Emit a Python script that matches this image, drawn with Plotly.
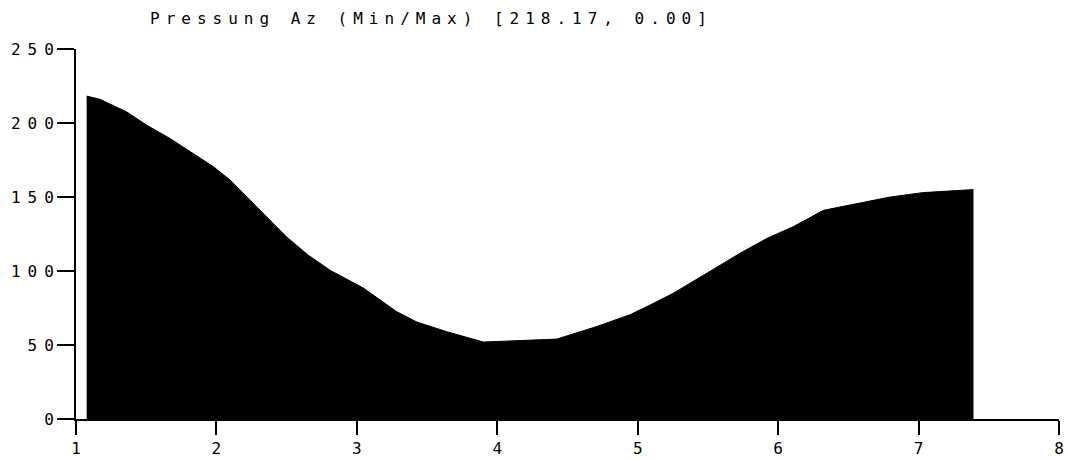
import plotly.graph_objects as go

# Data
x_vals = [1.076, 1.171, 1.361, 1.504, 1.670, 1.835, 1.978, 2.097, 2.216, 2.358,
          2.50, 2.65, 2.809, 3.046, 3.284, 3.427, 3.640, 3.901, 4.162, 4.424,
          4.709, 4.946, 5.088, 5.254, 5.492, 5.729, 5.919, 6.109, 6.323, 6.560,
          6.798, 7.035, 7.391]
pressure = [218.17, 216, 207.5, 198.5, 189.5, 179.5, 170.5, 161.5, 150, 136.5,
            123, 111, 100.5, 88.5, 72.5, 65.5, 59, 52, 53, 54,
            62.5, 70.5, 77, 85, 98.5, 112, 122, 130, 141, 145.5,
            150, 153, 155]

x_ticks = [1, 2, 3, 4, 5, 6, 7, 8]
x_tick_labels = ["1", "2", "3", "4", "5", "6", "7", "8"]
y_ticks = [0, 50, 100, 150, 200, 250]
y_tick_labels = ["0", "50", "100", "150", "200", "250"]
title_text = "Pressung Az (Min/Max) [218.17, 0.00]"

FONT = "DejaVu Sans Mono"


def spaced(s, px):
    # letter spacing between characters only (no trailing gap)
    if len(s) <= 1:
        return s
    return "<span style='letter-spacing:%dpx'>%s</span>%s" % (px, s[:-1], s[-1])


fig = go.Figure()
fig.add_trace(go.Scatter(
    x=x_vals, y=pressure, mode="lines", fill="tozeroy",
    fillcolor="black", line=dict(color="black", width=1),
    hoverinfo="skip", showlegend=False,
))

fig.update_layout(
    width=1068, height=460,
    margin=dict(l=76, r=9, t=49, b=41),
    paper_bgcolor="white", plot_bgcolor="white",
    font=dict(family=FONT, color="black", size=15),
    xaxis=dict(
        range=[1, 8], showgrid=False, zeroline=False, automargin=False,
        showline=True, linecolor="black", linewidth=2,
        ticks="outside", ticklen=14, tickwidth=1.5, tickcolor="black",
        tickvals=x_ticks, ticktext=x_tick_labels,
        tickfont=dict(family=FONT, size=16),
    ),
    yaxis=dict(
        range=[0, 250], showgrid=False, zeroline=False, automargin=False,
        showline=True, linecolor="black", linewidth=2,
        ticks="outside", ticklen=17, tickwidth=1.5, tickcolor="black",
        tickvals=y_ticks, ticktext=[spaced(t, 7) for t in y_tick_labels],
        tickfont=dict(family=FONT, size=16),
    ),
)

fig.add_annotation(
    text=spaced(title_text, 6), xref="paper", yref="paper",
    x=(148 - 76) / 983, y=(419 - 19) / 370, xanchor="left", yanchor="middle",
    showarrow=False, font=dict(family=FONT, size=16, color="black"),
)

fig.write_html(
    "out.html",
    config={"displayModeBar": False},
    post_script="document.body.style.margin='0';document.body.style.overflow='hidden';",
)
